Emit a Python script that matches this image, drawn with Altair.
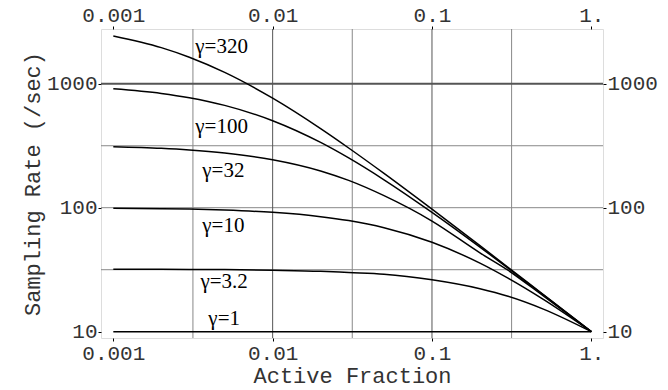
import altair as alt
import pandas as pd

# ---- data ----
x_vals = [0.001, 0.002, 0.003, 0.005, 0.01, 0.02, 0.03, 0.05, 0.1, 0.2, 0.3, 0.5, 1.0]
rate_g1 = [10, 10, 10, 10, 10, 10, 10, 10, 10, 10, 10, 10, 10]
rate_g3_2 = [31.9, 31.9, 31.8, 31.7, 31.3, 30.7, 30.0, 29.1, 26.2, 22.2, 19.3, 15.2, 10]
rate_g10 = [99.1, 98.2, 97.4, 95.7, 91.7, 84.7, 78.7, 69.0, 52.6, 35.7, 27.0, 18.2, 10]
rate_g32 = [310, 301, 292, 276, 244, 198, 166, 125, 78.0, 43.2, 31.3, 19.4, 10]
rate_g100 = [910, 835, 771, 669, 503, 336, 252, 168, 91.7, 48.1, 32.6, 19.8, 10]
rate_g320 = [2426, 1954, 1635, 1233, 764, 434, 303, 189, 97.3, 49.4, 33.1, 19.9, 10]

series_names = ["γ=1", "γ=3.2", "γ=10", "γ=32", "γ=100", "γ=320"]
series_vals = [rate_g1, rate_g3_2, rate_g10, rate_g32, rate_g100, rate_g320]

label_x = [0.00395, 0.00352, 0.00362, 0.00362, 0.00327, 0.00327]
label_y = [11.3, 22.5, 63.7, 177, 400, 1769]

grid_x_major = [0.01, 0.1]
grid_x_minor = [0.00316, 0.0316, 0.316]
grid_y_major = [1000]
grid_y_minor = [31.6, 100, 316]

x_ticks = [0.001, 0.01, 0.1, 1]
y_ticks = [10, 100, 1000]

# ---- tables ----
rows = []
for name, vals in zip(series_names, series_vals):
    for xv, yv in zip(x_vals, vals):
        rows.append({"series": name, "x": xv, "y": yv})
curves = pd.DataFrame(rows)
labels = pd.DataFrame({"series": series_names, "x": label_x, "y": label_y})

xscale = alt.Scale(type="log", domain=[0.000837, 1.184], nice=False)
yscale = alt.Scale(type="log", domain=[8.89, 2763], nice=False)

MONO = "Liberation Mono"
x_label_expr = "datum.value >= 1 ? '1.' : format(datum.value, '.3~f')"

common_axis = dict(
    grid=False, domain=False, ticks=True, tickSize=3, tickColor="black",
    labelFont=MONO, labelFontSize=21, labelColor="#333", labelPadding=1,
    titleFont=MONO, titleFontSize=22, titleFontWeight="normal", titleColor="#333",
)

vmajor = alt.Chart(pd.DataFrame({"x": grid_x_major})).mark_rule(
    color="#555", strokeWidth=1
).encode(
    x=alt.X("x:Q", scale=xscale,
            axis=alt.Axis(orient="top", values=x_ticks, labelExpr=x_label_expr,
                          title=None, **common_axis))
)
vminor = alt.Chart(pd.DataFrame({"x": grid_x_minor})).mark_rule(
    color="#888", strokeWidth=1
).encode(x=alt.X("x:Q", scale=xscale, axis=None))

hmajor = alt.Chart(pd.DataFrame({"y": grid_y_major})).mark_rule(
    color="#555", strokeWidth=2
).encode(
    y=alt.Y("y:Q", scale=yscale,
            axis=alt.Axis(orient="right", values=y_ticks, format="d",
                          title=None, **common_axis))
)
hminor = alt.Chart(pd.DataFrame({"y": grid_y_minor})).mark_rule(
    color="#888", strokeWidth=1
).encode(y=alt.Y("y:Q", scale=yscale, axis=None))

lines = alt.Chart(curves).mark_line(
    color="black", strokeWidth=1.5, interpolate="monotone"
).encode(
    x=alt.X("x:Q", scale=xscale,
            axis=alt.Axis(orient="bottom", values=x_ticks, labelExpr=x_label_expr,
                          title="Active Fraction", titlePadding=2, **common_axis)),
    y=alt.Y("y:Q", scale=yscale,
            axis=alt.Axis(orient="left", values=y_ticks, format="d",
                          title="Sampling Rate (/sec)", titlePadding=2, **common_axis)),
    detail="series:N",
)

texts = alt.Chart(labels).mark_text(
    font="Liberation Serif", fontSize=21, align="left", baseline="alphabetic",
    color="black"
).encode(
    x=alt.X("x:Q", scale=xscale, axis=None),
    y=alt.Y("y:Q", scale=yscale, axis=None),
    text="series:N",
)

chart = alt.layer(vminor, hminor, vmajor, hmajor, lines, texts).resolve_axis(
    x="independent", y="independent"
).properties(
    width=502, height=309,
    autosize=alt.AutoSizeParams(type="none"),
    padding={"left": 101, "top": 29, "right": 65, "bottom": 52},
).configure_view(
    stroke="black", strokeWidth=1.2
).configure(background="white")

chart.save("out.html", embed_options={"renderer": "svg", "actions": False})
